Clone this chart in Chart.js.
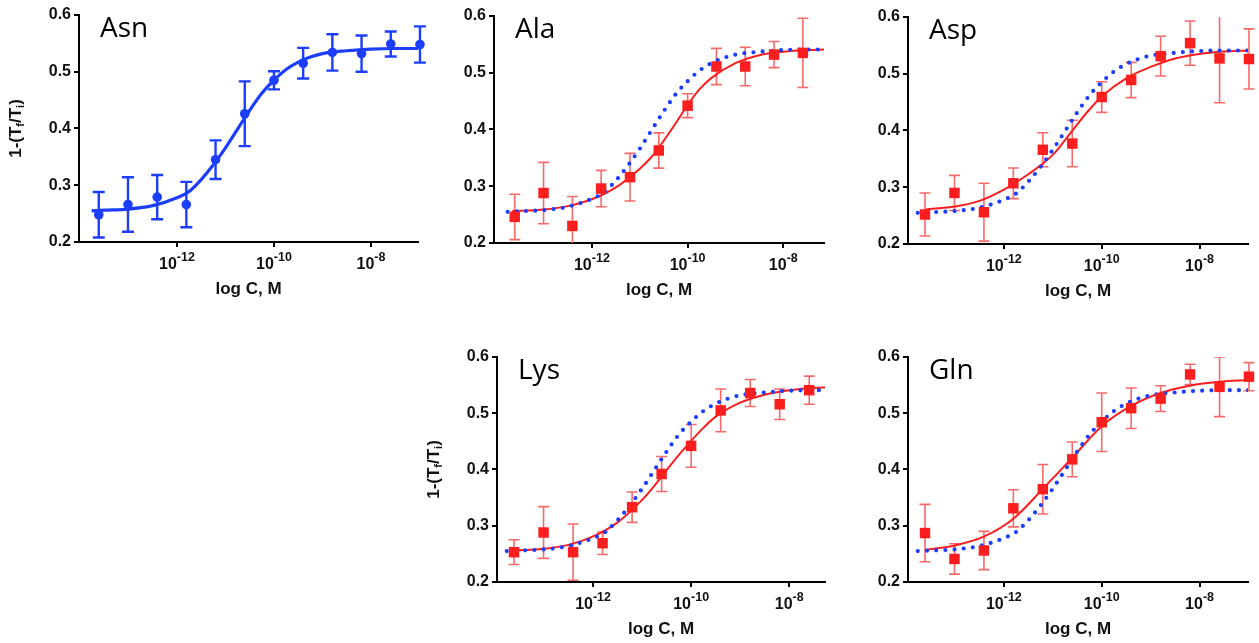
<!DOCTYPE html>
<html>
<head>
<meta charset="utf-8">
<title>Binding curves</title>
<script src="https://cdn.jsdelivr.net/npm/chart.js@4.4.1/dist/chart.umd.min.js"></script>
<style>
  html, body { margin: 0; padding: 0; background: #fff; }
  #wrap { position: relative; width: 1259px; height: 643px; overflow: hidden; }
  #wrap canvas { position: absolute; }
</style>
</head>
<body>
<div id="wrap"></div>
<script>
// ---- data ----
// concentrations, M (4-fold dilution series)
const conc = [2.44e-14, 9.77e-14, 3.91e-13, 1.56e-12, 6.25e-12, 2.5e-11, 1e-10, 4e-10, 1.6e-9, 6.4e-9, 2.56e-8, 1.024e-7];
const yTicks = [0.2, 0.3, 0.4, 0.5, 0.6];
const xTickExps = [-12, -10, -8];

const asnY   = [0.248, 0.266, 0.279, 0.266, 0.345, 0.426, 0.485, 0.515, 0.534, 0.532, 0.549, 0.548];
const asnErr = [0.040, 0.048, 0.039, 0.040, 0.034, 0.057, 0.016, 0.027, 0.032, 0.032, 0.022, 0.032];
const alaY   = [0.246, 0.288, 0.230, 0.296, 0.316, 0.363, 0.442, 0.511, 0.511, 0.532, 0.535];
const alaErr = [0.040, 0.054, 0.052, 0.032, 0.042, 0.031, 0.021, 0.032, 0.034, 0.023, 0.061];
const aspY   = [0.252, 0.290, 0.256, 0.307, 0.366, 0.377, 0.459, 0.489, 0.531, 0.554, 0.527, 0.526];
const aspErr = [0.038, 0.031, 0.051, 0.027, 0.030, 0.041, 0.027, 0.031, 0.035, 0.039, 0.078, 0.053];
const lysY   = [0.253, 0.288, 0.253, 0.269, 0.333, 0.392, 0.442, 0.505, 0.536, 0.516, 0.541];
const lysErr = [0.022, 0.046, 0.050, 0.020, 0.027, 0.031, 0.038, 0.038, 0.024, 0.027, 0.025];
const glnY   = [0.287, 0.241, 0.256, 0.331, 0.365, 0.418, 0.484, 0.509, 0.526, 0.569, 0.547, 0.565];
const glnErr = [0.051, 0.027, 0.034, 0.033, 0.044, 0.031, 0.052, 0.036, 0.023, 0.018, 0.053, 0.025];

// fitted curves (x as log10 C)
const asnFitLogC = [-13.76, -13.5, -13, -12.5, -12, -11.75, -11.5, -11.25, -11, -10.75, -10.5, -10.25, -10, -9.75, -9.5, -9.25, -9, -8.5, -8, -7.5, -7];
const asnFitY    = [0.255, 0.256, 0.258, 0.264, 0.278, 0.289, 0.310, 0.336, 0.366, 0.399, 0.432, 0.462, 0.485, 0.504, 0.517, 0.526, 0.532, 0.537, 0.540, 0.541, 0.541];
const alaFitLogC = [-13.67, -13, -12.5, -12, -11.5, -11, -10.75, -10.5, -10.25, -10, -9.75, -9.5, -9, -8.5, -8, -7.5, -7.1];
const alaFitY    = [0.256, 0.259, 0.265, 0.277, 0.298, 0.331, 0.352, 0.380, 0.411, 0.443, 0.471, 0.491, 0.517, 0.531, 0.537, 0.540, 0.541];
const aspFitLogC = [-13.6, -13, -12.5, -12, -11.5, -11, -10.75, -10.5, -10.25, -10, -9.5, -9, -8.5, -8, -7.5, -7];
const aspFitY    = [0.261, 0.266, 0.276, 0.296, 0.323, 0.357, 0.383, 0.411, 0.437, 0.460, 0.492, 0.512, 0.527, 0.535, 0.539, 0.541];
const lysFitLogC = [-13.58, -13, -12.5, -12, -11.5, -11, -10.75, -10.5, -10.25, -10, -9.75, -9.5, -9, -8.5, -8, -7.5, -7.2];
const lysFitY    = [0.256, 0.259, 0.266, 0.281, 0.306, 0.346, 0.371, 0.399, 0.426, 0.451, 0.474, 0.494, 0.519, 0.533, 0.541, 0.545, 0.546];
const glnFitLogC = [-13.6, -13, -12.4, -11.8, -11.2, -10.6, -10, -9.4, -8.8, -8.2, -7.6, -7];
const glnFitY    = [0.257, 0.265, 0.281, 0.313, 0.366, 0.421, 0.477, 0.513, 0.536, 0.549, 0.556, 0.559];

// ---- look ----
const BLUE = "rgb(28,62,250)";
const RED = "rgb(250,30,30)";
const RED_ERR = "rgba(246,90,90,0.9)";
const FONT = "'Liberation Sans', Arial, sans-serif";
const Y_W = 80, PAD_T = 14, PAD_R = 12, X_H = 62;

Chart.defaults.font.family = FONT;
Chart.defaults.animation = false;

const panels = [
  { title: "Asn", ys: asnY, errs: asnErr, fitX: asnFitLogC, fitY: asnFitY, ref: false, yTitle: true,
    rect: [79, 15, 418, 242], xr: [-14.02, -7.03] },
  { title: "Ala", ys: alaY, errs: alaErr, fitX: alaFitLogC, fitY: alaFitY, ref: true, yTitle: false,
    rect: [494, 16, 824, 243], xr: [-14.04, -7.15] },
  { title: "Asp", ys: aspY, errs: aspErr, fitX: aspFitLogC, fitY: aspFitY, ref: true, yTitle: false,
    rect: [908, 17, 1248, 244], xr: [-13.96, -7.01] },
  { title: "Lys", ys: lysY, errs: lysErr, fitX: lysFitLogC, fitY: lysFitY, ref: true, yTitle: true,
    rect: [497, 357, 825, 582], xr: [-13.96, -7.27] },
  { title: "Gln", ys: glnY, errs: glnErr, fitX: glnFitLogC, fitY: glnFitY, ref: true, yTitle: false,
    rect: [908, 357, 1248, 582], xr: [-13.96, -7.01] },
];

// error bars, drawn under the markers, clipped to the plot height
const errorBars = {
  id: "errorBars",
  beforeDatasetsDraw(chart, args, opts) {
    const { ctx, chartArea: ca, scales: { x, y } } = chart;
    ctx.save();
    ctx.beginPath();
    ctx.rect(0, ca.top, chart.width, ca.bottom - ca.top);
    ctx.clip();
    ctx.strokeStyle = opts.color;
    ctx.lineWidth = opts.width;
    opts.ys.forEach((v, i) => {
      const px = x.getPixelForValue(conc[i]);
      const t = y.getPixelForValue(v + opts.errs[i]);
      const b = y.getPixelForValue(v - opts.errs[i]);
      ctx.beginPath();
      ctx.moveTo(px, t); ctx.lineTo(px, b);
      ctx.moveTo(px - opts.cap, t); ctx.lineTo(px + opts.cap, t);
      ctx.moveTo(px - opts.cap, b); ctx.lineTo(px + opts.cap, b);
      ctx.stroke();
    });
    ctx.restore();
  }
};

// texts with super/subscripts + panel names
const labels = {
  id: "labels",
  afterDraw(chart, args, opts) {
    const { ctx, chartArea: ca, scales: { x } } = chart;
    ctx.save();
    ctx.fillStyle = "#111";
    ctx.textBaseline = "alphabetic";
    ctx.textAlign = "left";
    // x tick labels 10^n
    xTickExps.forEach(e => {
      const px = x.getPixelForValue(Math.pow(10, e));
      ctx.font = `bold 16px ${FONT}`;
      const wb = ctx.measureText("10").width;
      ctx.font = `bold 12.5px ${FONT}`;
      const we = ctx.measureText(String(e)).width;
      const x0 = px - (wb + we) / 2;
      ctx.font = `bold 16px ${FONT}`;
      ctx.fillText("10", x0, ca.bottom + 27);
      ctx.font = `bold 12.5px ${FONT}`;
      ctx.fillText(String(e), x0 + wb, ca.bottom + 19);
    });
    // x title
    ctx.font = `bold 17px ${FONT}`;
    ctx.textAlign = "center";
    ctx.textBaseline = "middle";
    ctx.fillText("log C, M", (ca.left + ca.right) / 2, ca.bottom + 47);
    // y title 1-(Tf/Ti)
    if (opts.yTitle) {
      const parts = [["1-(T", false], ["f", true], ["/T", false], ["i", true], [")", false]];
      const big = `bold 17px ${FONT}`, small = `bold 11px ${FONT}`;
      let tot = 0;
      parts.forEach(([s, sub]) => { ctx.font = sub ? small : big; tot += ctx.measureText(s).width; });
      ctx.translate(ca.left - 63, (ca.top + ca.bottom) / 2);
      ctx.rotate(-Math.PI / 2);
      ctx.textAlign = "left";
      let cx = -tot / 2;
      parts.forEach(([s, sub]) => {
        ctx.font = sub ? small : big;
        ctx.fillText(s, cx, sub ? 5 : 0);
        cx += ctx.measureText(s).width;
      });
      ctx.setTransform(1, 0, 0, 1, 0, 0);
    }
    // panel name
    ctx.fillStyle = "#000";
    ctx.font = `28px 'Open Sans', sans-serif`;
    ctx.textAlign = "left";
    ctx.textBaseline = "alphabetic";
    ctx.fillText(opts.title, ca.left + 21, ca.top + 22);
    ctx.restore();
  }
};

const wrap = document.getElementById("wrap");

function makePanel(p) {
  const [l, t, r, b] = p.rect;
  const w = r - l + Y_W + PAD_R, h = b - t + PAD_T + X_H;
  const cv = document.createElement("canvas");
  cv.width = w; cv.height = h;
  cv.style.left = (l - Y_W) + "px";
  cv.style.top = (t - PAD_T) + "px";
  cv.style.width = w + "px";
  cv.style.height = h + "px";
  wrap.appendChild(cv);

  const isAsn = !p.ref;
  const pts = p.ys.map((v, i) => ({ x: conc[i], y: v }));
  const fit = p.fitX.map((e, i) => ({ x: Math.pow(10, e), y: p.fitY[i] }));
  const ref = asnFitLogC.map((e, i) => ({ x: Math.pow(10, e), y: asnFitY[i] }));

  const datasets = [
    { label: "data", data: pts, showLine: false, order: 0, clip: false,
      pointStyle: isAsn ? "circle" : "rect", pointRadius: isAsn ? 4.8 : 7.4,
      backgroundColor: isAsn ? BLUE : RED, borderWidth: 0, pointHoverRadius: 0 },
    { label: "fit", data: fit, order: 2, borderColor: isAsn ? BLUE : RED,
      borderWidth: isAsn ? 3.2 : 2, pointRadius: 0, cubicInterpolationMode: "monotone" },
  ];
  if (p.ref) {
    datasets.push({ label: "Asn fit", data: ref, order: 1, borderColor: BLUE, borderWidth: 4.2,
      borderDash: [0, 9.2], borderCapStyle: "round", pointRadius: 0, cubicInterpolationMode: "monotone" });
  }

  const axisBase = {
    border: { display: true, color: "#000", width: 2 },
    grid: { display: true, drawOnChartArea: false, drawTicks: true, tickLength: 5, color: "#000", lineWidth: 2 },
  };

  new Chart(cv, {
    type: "line",
    data: { datasets },
    options: {
      responsive: false,
      animation: false,
      events: [],
      layout: { padding: { top: PAD_T, right: PAD_R, left: 0, bottom: 0 } },
      plugins: {
        legend: { display: false },
        tooltip: { enabled: false },
        errorBars: { ys: p.ys, errs: p.errs, color: isAsn ? BLUE : RED_ERR, width: isAsn ? 2.4 : 1.6, cap: isAsn ? 6 : 5.5 },
        labels: { title: p.title, yTitle: p.yTitle },
      },
      scales: {
        x: {
          ...axisBase,
          type: "logarithmic",
          min: Math.pow(10, p.xr[0]),
          max: Math.pow(10, p.xr[1]),
          afterFit: s => { s.height = X_H; },
          afterBuildTicks: s => { s.ticks = xTickExps.map(e => ({ value: Math.pow(10, e) })); },
          ticks: { callback: () => "" },
        },
        y: {
          ...axisBase,
          type: "linear",
          min: 0.2,
          max: 0.6,
          afterFit: s => { s.width = Y_W; },
          afterBuildTicks: s => { s.ticks = yTicks.map(v => ({ value: v })); },
          ticks: { padding: 3, color: "#111", font: { size: 16, weight: "bold" }, callback: v => Number(v).toFixed(1) },
        },
      },
    },
    plugins: [errorBars, labels],
  });
}

panels.forEach(makePanel);
</script>
</body>
</html>
